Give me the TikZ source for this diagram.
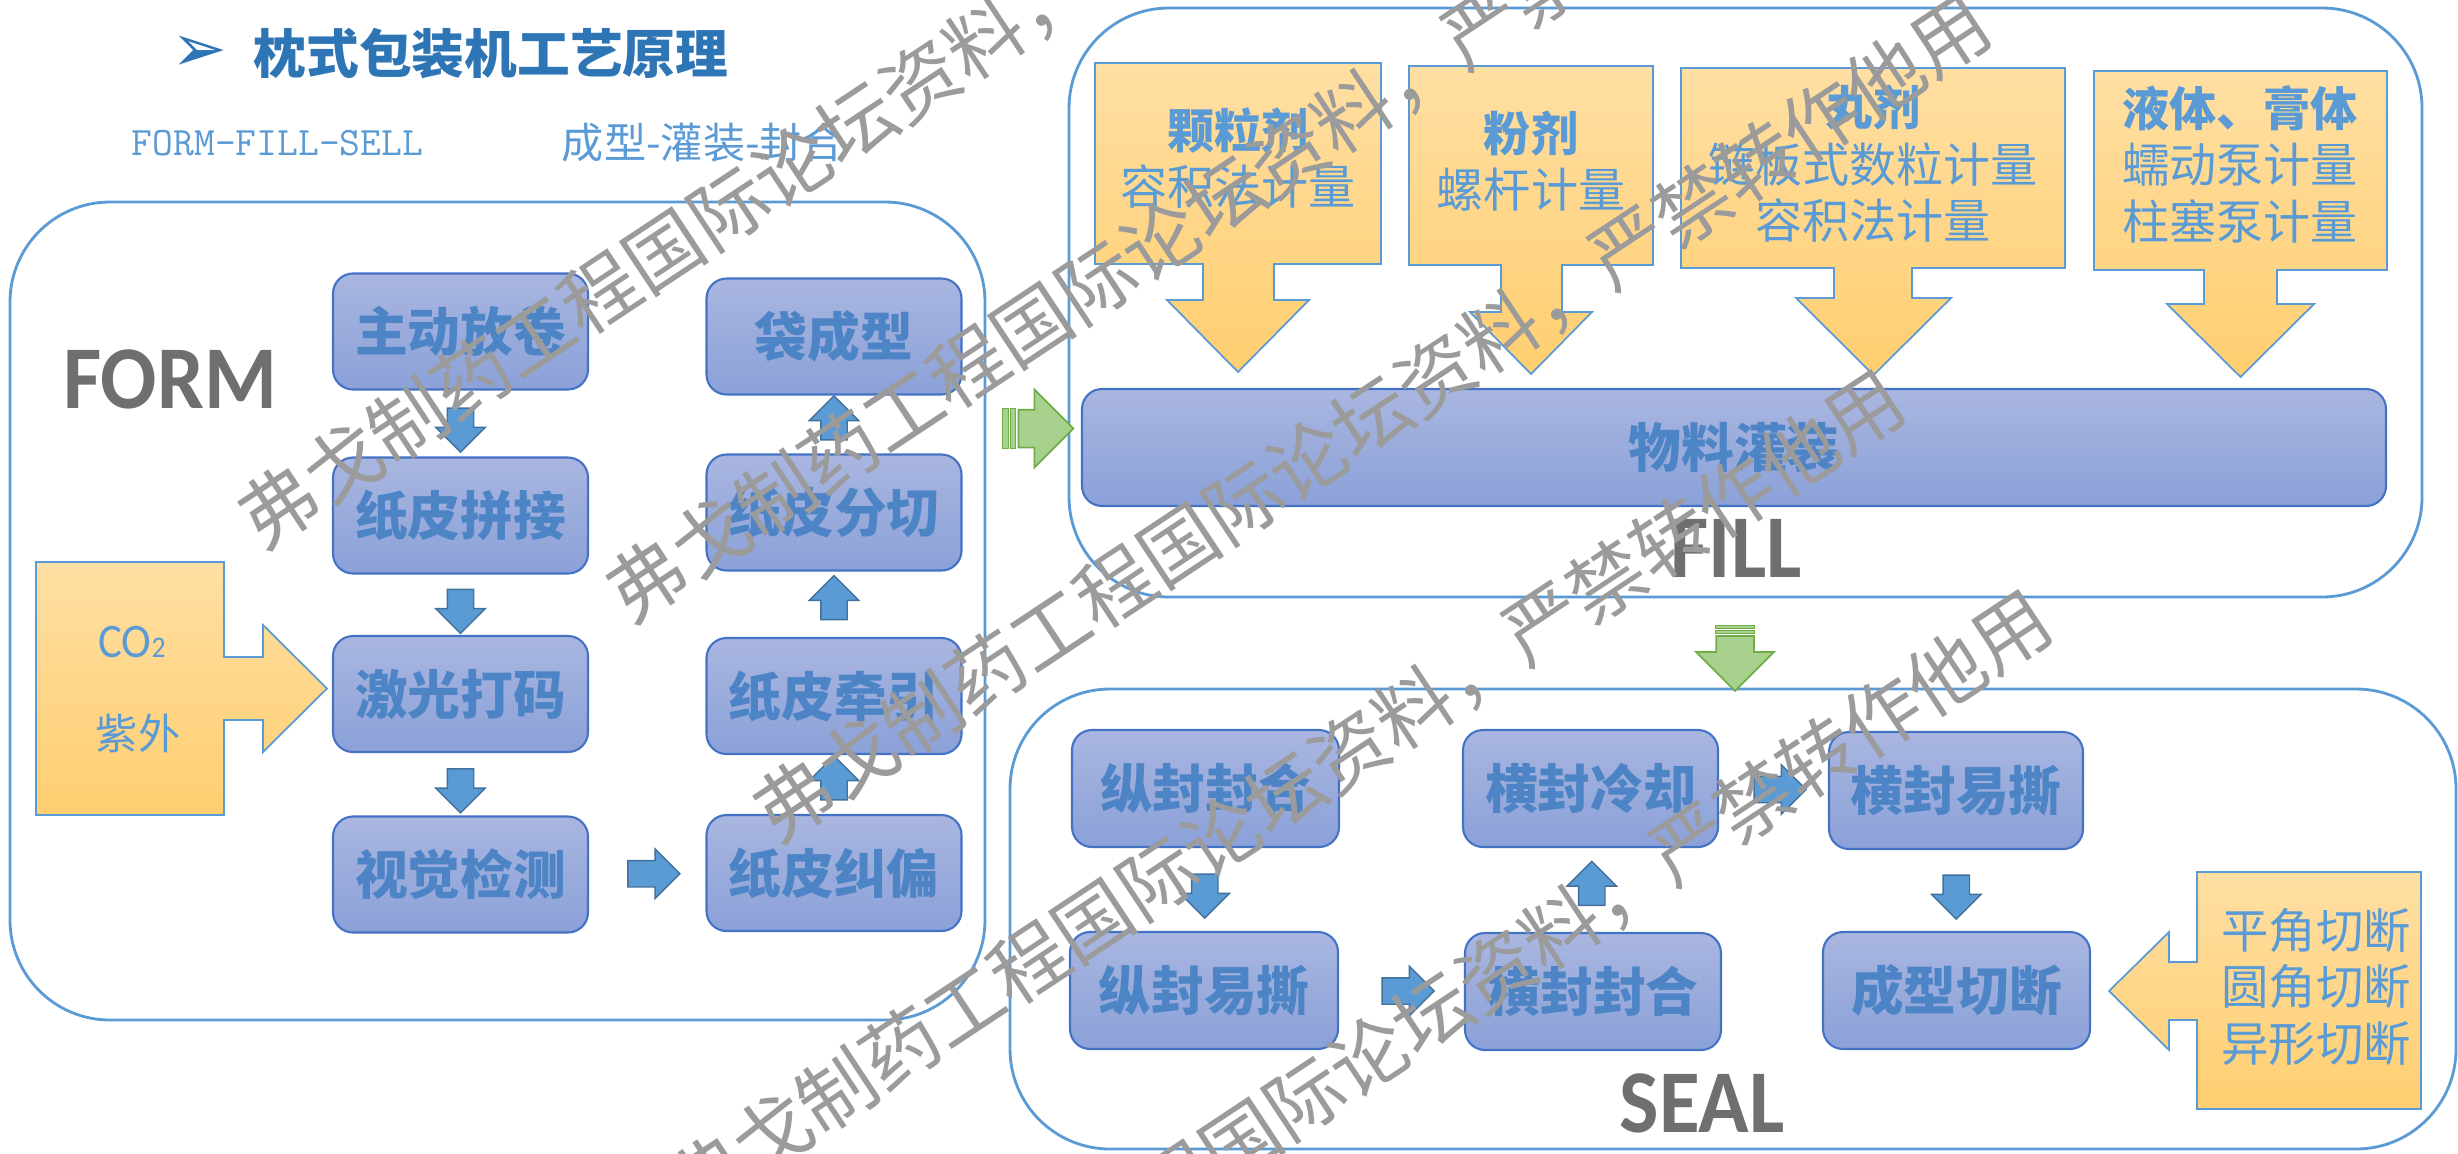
\documentclass[tikz,border=0pt]{standalone}
\usepackage{fontspec}
\usepackage{xcolor}
\usepackage{tikz}
\usetikzlibrary{shapes.arrows, positioning, calc}
\setmainfont{Noto Sans CJK SC}
\newfontfamily\tagfont[FakeStretch=0.93]{Carlito}
\newfontfamily\symfont{DejaVu Sans}
\definecolor{mDarkBlue}{HTML}{2E75B6}
\definecolor{mLightBlue}{HTML}{5B9BD5}
\definecolor{mBoxText}{HTML}{4C84C6}
\definecolor{mEdge}{HTML}{4472C4}
\definecolor{mBoxTop}{HTML}{A9B6E0}
\definecolor{mBoxBottom}{HTML}{8BA1D8}
\definecolor{mArrowEdge}{HTML}{41719C}
\definecolor{mGoldTop}{HTML}{FFDFA3}
\definecolor{mGoldBottom}{HTML}{FFCE70}
\definecolor{mGreen}{HTML}{A9D18E}
\definecolor{mDarkGreen}{HTML}{70AD47}
\definecolor{mGrey}{HTML}{6F6F6F}
\definecolor{mMark}{HTML}{9B9B9B}

\begin{document}
\begin{tikzpicture}[x=0.1mm, y=-0.1mm,
    panel/.style={rectangle, draw=mLightBlue, line width=0.8pt, rounded corners=1cm, inner sep=0pt},
    box/.style={rectangle, draw=mEdge, line width=0.6pt, top color=mBoxTop, bottom color=mBoxBottom, rounded corners=2mm, minimum width=2.55cm, minimum height=1.16cm, text=mBoxText, font=\fontsize{15}{18}\selectfont\bfseries},
    blockarrow/.style={single arrow, draw=mArrowEdge, line width=0.4pt, fill=mLightBlue, inner xsep=0pt, inner ysep=1.25mm, single arrow head extend=1.15mm, minimum width=4.8mm, minimum height=4.4mm},
    greenarrow/.style={single arrow, draw=mDarkGreen, line width=0.5pt, fill=mGreen, inner xsep=0pt, inner ysep=1.8mm, single arrow head extend=2mm, minimum width=7.6mm, minimum height=5.5mm},
    stripe/.style={fill=mGreen, draw=mDarkGreen, line width=0.3pt},
    gold/.style={draw=mLightBlue, line width=0.5pt, top color=mGoldTop, bottom color=mGoldBottom},
    goldtext/.style={align=center, text=mLightBlue, font=\fontsize{13.4}{16.1}\selectfont},
    tag/.style={text=mGrey, font=\tagfont\bfseries\fontsize{25.5}{28}\selectfont},
    wmark/.style={text=mMark, rotate=33.5, font=\fontsize{21.9}{24}\selectfont}
]
    \path[use as bounding box, fill=white] (0,0) rectangle (2458,1153);

    \node[text=mDarkBlue, font=\symfont\fontsize{19}{21}\selectfont] (bullet) at (199,54) {➢};
    \node[text=mDarkBlue, font=\fontsize{15}{18}\selectfont\bfseries] (title) at (491,54) {枕式包装机工艺原理};
    \node[text=mLightBlue, font=\ttfamily\fontsize{11.5}{14}\selectfont] (ffs) at (277.5,143) {FORM-FILL-SELL};
    \node[text=mLightBlue, font=\fontsize{12}{14}\selectfont] (ffscn) at (703,143) {成型-灌装-封合};

    \node[panel, minimum width=9.75cm, minimum height=8.18cm] (form) at (497.5,611) {};
    \node[panel, minimum width=13.53cm, minimum height=5.89cm] (fill) at (1745.5,302.5) {};
    \node[panel, minimum width=14.46cm, minimum height=4.6cm] (seal) at (1733,919) {};

    \node[tag] (formtag) at (170,379) {FORM};
    \node[tag] (filltag) at (1736,548) {FILL};
    \node[tag] (sealtag) at (1702,1103) {SEAL};

    \node[box] (fangjuan) at (460.5,331.5) {主动放卷};
    \node[box] (pinjie) at (460.5,515.5) {纸皮拼接};
    \node[box] (dama) at (460.5,694) {激光打码};
    \node[box] (jiance) at (460.5,874.5) {视觉检测};
    \node[box] (jiupian) at (834,873) {纸皮纠偏};
    \node[box] (qianyin) at (834,696) {纸皮牵引};
    \node[box] (fenqie) at (834,512.5) {纸皮分切};
    \node[box] (daixing) at (834,336.5) {袋成型};

    \node[blockarrow, rotate=-90] (fjpj) at ($(fangjuan.south)!0.5!(pinjie.north)$) {};
    \node[blockarrow, rotate=-90] (pjdm) at ($(pinjie.south)!0.5!(dama.north)$) {};
    \node[blockarrow, rotate=-90] (dmjc) at ($(dama.south)!0.5!(jiance.north)$) {};
    \node[blockarrow, minimum height=5.2mm] (jcjp) at ($(jiance.east)!0.5!(jiupian.west)$) {};
    \node[blockarrow, rotate=90] (jpqy) at ($(jiupian.north)!0.5!(qianyin.south)$) {};
    \node[blockarrow, rotate=90] (qyfq) at ($(qianyin.north)!0.5!(fenqie.south)$) {};
    \node[blockarrow, rotate=90] (fqdx) at ($(fenqie.north)!0.5!(daixing.south)$) {};

    \path[gold] (36,562) -- (224,562) -- (224,657) -- (263,657) -- (263,625) -- (327,688.5)
        -- (263,752) -- (263,720) -- (224,720) -- (224,815) -- (36,815) -- cycle;
    \node[text=mLightBlue, font=\tagfont\fontsize{13.7}{16}\selectfont] (co2) at (132,642) {CO{\fontsize{8.5}{9}\selectfont 2}};
    \node[text=mLightBlue, font=\fontsize{12}{14}\selectfont] (ziwai) at (138,733) {紫外};

    \foreach \xa/\xb/\ya/\yb/\sa/\sb/\ha/\hb/\hy/\ty in {
        1095/1381/63/264/1203/1274/1167/1309/300/372,
        1409/1653/66/265/1501/1562/1470/1592/312/374,
        1681/2065/68/268/1834/1912/1796/1951/298/375,
        2094/2387/71/270/2204/2277/2167/2314/304/377}
        \path[gold] (\xa,\ya) -- (\xb,\ya) -- (\xb,\yb) -- (\sb,\yb) -- (\sb,\hy) -- (\hb,\hy)
            -- ({(\ha+\hb)/2},\ty) -- (\ha,\hy) -- (\sa,\hy) -- (\sa,\yb) -- (\xa,\yb) -- cycle;
    \node[goldtext] (keli) at (1238,158) {\textbf{颗粒剂}\\容积法计量};
    \node[goldtext] (fenji) at (1531,161) {\textbf{粉剂}\\螺杆计量};
    \node[goldtext] (wanji) at (1873,164) {\textbf{丸剂}\\链板式数粒计量\\容积法计量};
    \node[goldtext] (yeti) at (2240,164) {\textbf{液体、膏体}\\蠕动泵计量\\柱塞泵计量};

    \node[box, minimum width=13.04cm, minimum height=1.17cm] (guanzhuang) at (1734,447.5) {物料灌装};

    \node[greenarrow] (formfill) at (1036.5,428.5) {};
    \draw[stripe] ($(formfill.before tail)+(-15,0)$) rectangle ($(formfill.after tail)+(-9,0)$);
    \draw[stripe] ($(formfill.before tail)+(-7,0)$) rectangle ($(formfill.after tail)+(-2,0)$);
    \node[greenarrow, rotate=-90] (fillseal) at (1735,654) {};
    \draw[stripe] ($(fillseal.before tail)+(0,-10)$) rectangle ($(fillseal.after tail)+(0,-7)$);
    \draw[stripe] ($(fillseal.before tail)+(0,-5)$) rectangle ($(fillseal.after tail)+(0,-2)$);

    \node[box, minimum width=2.67cm, minimum height=1.17cm] (zfhe) at (1205.5,788.5) {纵封封合};
    \node[box, minimum width=2.68cm, minimum height=1.17cm] (zfys) at (1204,990.5) {纵封易撕};
    \node[box, minimum width=2.56cm, minimum height=1.17cm] (hfhe) at (1593,991.5) {横封封合};
    \node[box, minimum width=2.55cm, minimum height=1.17cm] (hflq) at (1590.5,788.5) {横封冷却};
    \node[box, minimum width=2.54cm, minimum height=1.17cm] (hfys) at (1956,790.5) {横封易撕};
    \node[box, minimum width=2.67cm, minimum height=1.17cm] (qieduan) at (1956.5,990.5) {成型切断};

    \node[blockarrow, rotate=-90] (zhzy) at ($(zfhe.south)!0.5!(zfys.north)$) {};
    \node[blockarrow, minimum height=5.2mm] (zyhh) at ($(zfys.east)!0.5!(hfhe.west)$) {};
    \node[blockarrow, rotate=90] (hhhl) at ($(hfhe.north)!0.5!(hflq.south)$) {};
    \node[blockarrow, minimum height=5.2mm] (hlhy) at ($(hflq.east)!0.5!(hfys.west)$) {};
    \node[blockarrow, rotate=-90] (hyqd) at ($(hfys.south)!0.5!(qieduan.north)$) {};

    \path[gold] (2421,872) -- (2197,872) -- (2197,962) -- (2169,962) -- (2169,932) -- (2109,991)
        -- (2169,1050) -- (2169,1020) -- (2197,1020) -- (2197,1109) -- (2421,1109) -- cycle;
    \node[goldtext, font=\fontsize{13.5}{16.2}\selectfont] (qiefa) at (2316,987) {平角切断\\圆角切断\\异形切断};

    \foreach \x/\y [count=\i] in {857/124, 1225/198, 1372/418, 1286/794, 1433/1014}
        \node[wmark] (wm\i) at (\x,\y) {弗戈制药工程国际论坛资料，严禁转作他用};
\end{tikzpicture}
\end{document}
